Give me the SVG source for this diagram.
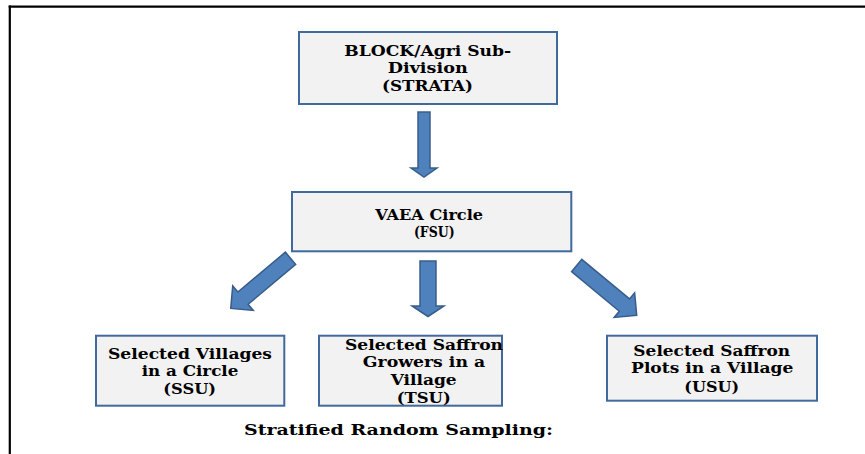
<svg xmlns="http://www.w3.org/2000/svg" width="865" height="454" viewBox="0 0 865 454">
  <style>
    .box { fill: #f2f2f2; stroke: #41699c; stroke-width: 2; }
    .arrow { fill: #4f81bd; stroke: #385d8a; stroke-width: 1.5; stroke-linejoin: miter; }
    .frame { stroke: #000; stroke-width: 2.2; fill: none; }
    text { font-family: "DejaVu Serif", "Liberation Serif", serif; font-weight: bold; font-size: 14.5px; fill: #000; }
  </style>
  <defs>
    <!-- diagonal block arrow, pointing along +x from its tail -->
    <path id="diag" d="M0,-8 L62,-8 L62,-16 L78,0 L62,16 L62,8 L0,8 Z"/>
  </defs>
  <rect width="865" height="454" fill="#fff"/>

  <!-- page frame -->
  <g id="frame">
    <line class="frame" x1="8.7" y1="6.7" x2="865" y2="6.7"/>
    <line class="frame" x1="9.8" y1="5.6" x2="9.8" y2="454"/>
  </g>

  <!-- block arrows -->
  <g id="connectors">
    <path class="arrow" d="M418,112 L430,112 L430,168 L437,168 L424,177 L411,168 L418,168 Z"/>
    <path class="arrow" d="M420,261 L436,261 L436,306 L444,306 L428,316.5 L412,306 L420,306 Z"/>
    <use class="arrow" href="#diag" transform="translate(290.5,258.3) rotate(140)"/>
    <use class="arrow" href="#diag" transform="translate(576.7,265.5) rotate(39.7)"/>
  </g>

  <g id="strata">
    <rect class="box" x="299" y="32" width="258" height="72"/>
    <text x="427.7" y="55.7" text-anchor="middle" textLength="167" lengthAdjust="spacingAndGlyphs">BLOCK/Agri Sub-</text>
    <text x="427.7" y="73.2" text-anchor="middle" textLength="80" lengthAdjust="spacingAndGlyphs">Division</text>
    <text x="427.5" y="91.3" text-anchor="middle" textLength="91" lengthAdjust="spacingAndGlyphs">(STRATA)</text>
  </g>

  <g id="fsu">
    <rect class="box" x="292" y="192" width="279.3" height="59.3"/>
    <text x="429.2" y="219.7" text-anchor="middle" textLength="107.7" lengthAdjust="spacingAndGlyphs">VAEA Circle</text>
    <text x="434.3" y="237.3" text-anchor="middle" textLength="40.7" lengthAdjust="spacingAndGlyphs">(FSU)</text>
  </g>

  <g id="ssu">
    <rect class="box" x="96" y="335.7" width="188.3" height="70"/>
    <text x="190" y="359" text-anchor="middle" textLength="164" lengthAdjust="spacingAndGlyphs">Selected Villages</text>
    <text x="190" y="376.3" text-anchor="middle" textLength="96.7" lengthAdjust="spacingAndGlyphs">in a Circle</text>
    <text x="189.7" y="394" text-anchor="middle" textLength="52.7" lengthAdjust="spacingAndGlyphs">(SSU)</text>
  </g>

  <g id="tsu">
    <rect class="box" x="319" y="335.7" width="183" height="70"/>
    <text x="424" y="350" text-anchor="middle" textLength="158" lengthAdjust="spacingAndGlyphs">Selected Saffron</text>
    <text x="424" y="367.2" text-anchor="middle" textLength="122.3" lengthAdjust="spacingAndGlyphs">Growers in a</text>
    <text x="423.7" y="384.8" text-anchor="middle" textLength="66" lengthAdjust="spacingAndGlyphs">Village</text>
    <text x="423.7" y="402.7" text-anchor="middle" textLength="54" lengthAdjust="spacingAndGlyphs">(TSU)</text>
  </g>

  <g id="usu">
    <rect class="box" x="607" y="335.7" width="210" height="65"/>
    <text x="711.7" y="356" text-anchor="middle" textLength="156.7" lengthAdjust="spacingAndGlyphs">Selected Saffron</text>
    <text x="712.2" y="373.3" text-anchor="middle" textLength="162.3" lengthAdjust="spacingAndGlyphs">Plots in a Village</text>
    <text x="711.7" y="391.7" text-anchor="middle" textLength="54.7" lengthAdjust="spacingAndGlyphs">(USU)</text>
  </g>

  <g id="caption">
    <text x="244" y="435" textLength="309" lengthAdjust="spacingAndGlyphs">Stratified Random Sampling:</text>
  </g>
</svg>
